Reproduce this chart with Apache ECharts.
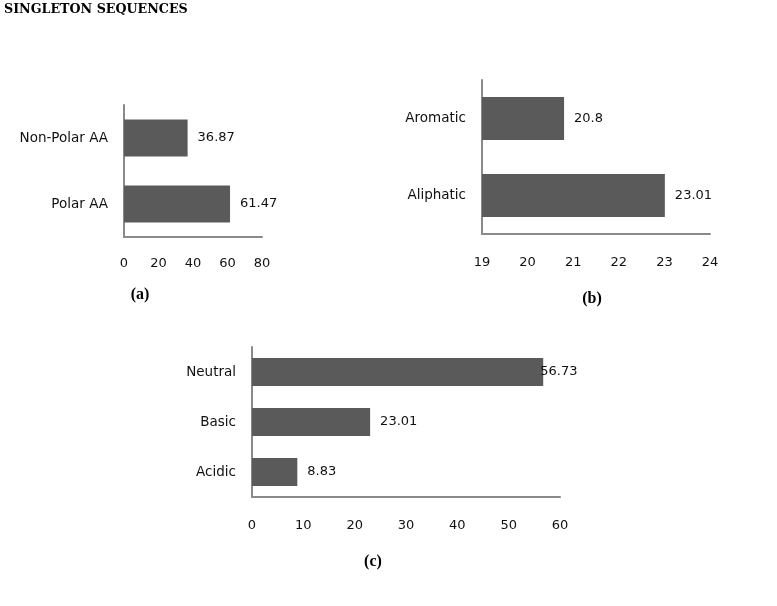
<!DOCTYPE html>
<html><head><meta charset="utf-8">
<script src="https://cdn.jsdelivr.net/npm/echarts@6/dist/echarts.min.js"></script>
<style>html,body{margin:0;padding:0;background:#fff}#c{width:777px;height:606px}</style>
</head><body><div id="c"></div>
<script>
const titleText = 'SINGLETON SEQUENCES';
const catsA = ['Non-Polar AA', 'Polar AA'];
const valsA = [36.87, 61.47];
const catsB = ['Aromatic', 'Aliphatic'];
const valsB = [20.8, 23.01];
const catsC = ['Neutral', 'Basic', 'Acidic'];
const valsC = [56.73, 23.01, 8.83];
const panelLabels = ['(a)', '(b)', '(c)'];

const FONT = 'DejaVu Sans';
const axisColor = '#8a8a8a';
const barColor = '#5a5a5a';
const textColor = '#111';

function xAxisDef(gi, min, max, interval, margin) {
  return {
    type: 'value', gridIndex: gi, min: min, max: max, interval: interval,
    axisLine: {show: true, lineStyle: {color: axisColor, width: 2}},
    axisTick: {show: false}, splitLine: {show: false},
    axisLabel: {color: textColor, fontFamily: FONT, fontSize: 13, margin: margin}
  };
}
function yAxisDef(gi, cats) {
  return {
    type: 'category', gridIndex: gi, data: cats, inverse: true,
    axisLine: {show: true, lineStyle: {color: axisColor, width: 2}},
    axisTick: {show: false}, splitLine: {show: false},
    axisLabel: {color: textColor, fontFamily: FONT, fontSize: 13.5, margin: 16}
  };
}
function barSeries(gi, vals, offsets) {
  return {
    type: 'bar', xAxisIndex: gi, yAxisIndex: gi, barWidth: '56%',
    itemStyle: {color: barColor},
    label: {show: true, position: 'right', distance: 10, color: textColor, fontFamily: FONT, fontSize: 13},
    data: vals.map((v, i) => (offsets && offsets[i]) ? {value: v, label: {offset: offsets[i]}} : v),
    animation: false
  };
}

const chart = echarts.init(document.getElementById('c'));
chart.setOption({
  animation: false,
  grid: [
    {left: 124, top: 105, width: 138, height: 132},
    {left: 482, top: 80, width: 228, height: 154},
    {left: 252, top: 347, width: 308, height: 150}
  ],
  xAxis: [xAxisDef(0, 0, 80, 20, 20), xAxisDef(1, 19, 24, 1, 22), xAxisDef(2, 0, 60, 10, 22)],
  yAxis: [yAxisDef(0, catsA), yAxisDef(1, catsB), yAxisDef(2, catsC)],
  series: [barSeries(0, valsA), barSeries(1, valsB), barSeries(2, valsC, [[-13, 0]])],
  graphic: [
    {type: 'text', left: 4, top: 3, style: {text: titleText, font: 'bold 12.7px "DejaVu Serif"', fill: '#000'}},
    {type: 'text', x: 140, y: 295, style: {text: panelLabels[0], font: 'bold 16px "Liberation Serif"', fill: '#000', textAlign: 'center', textVerticalAlign: 'middle'}},
    {type: 'text', x: 592, y: 299, style: {text: panelLabels[1], font: 'bold 16px "Liberation Serif"', fill: '#000', textAlign: 'center', textVerticalAlign: 'middle'}},
    {type: 'text', x: 373, y: 562, style: {text: panelLabels[2], font: 'bold 16px "Liberation Serif"', fill: '#000', textAlign: 'center', textVerticalAlign: 'middle'}}
  ]
});
</script></body></html>
